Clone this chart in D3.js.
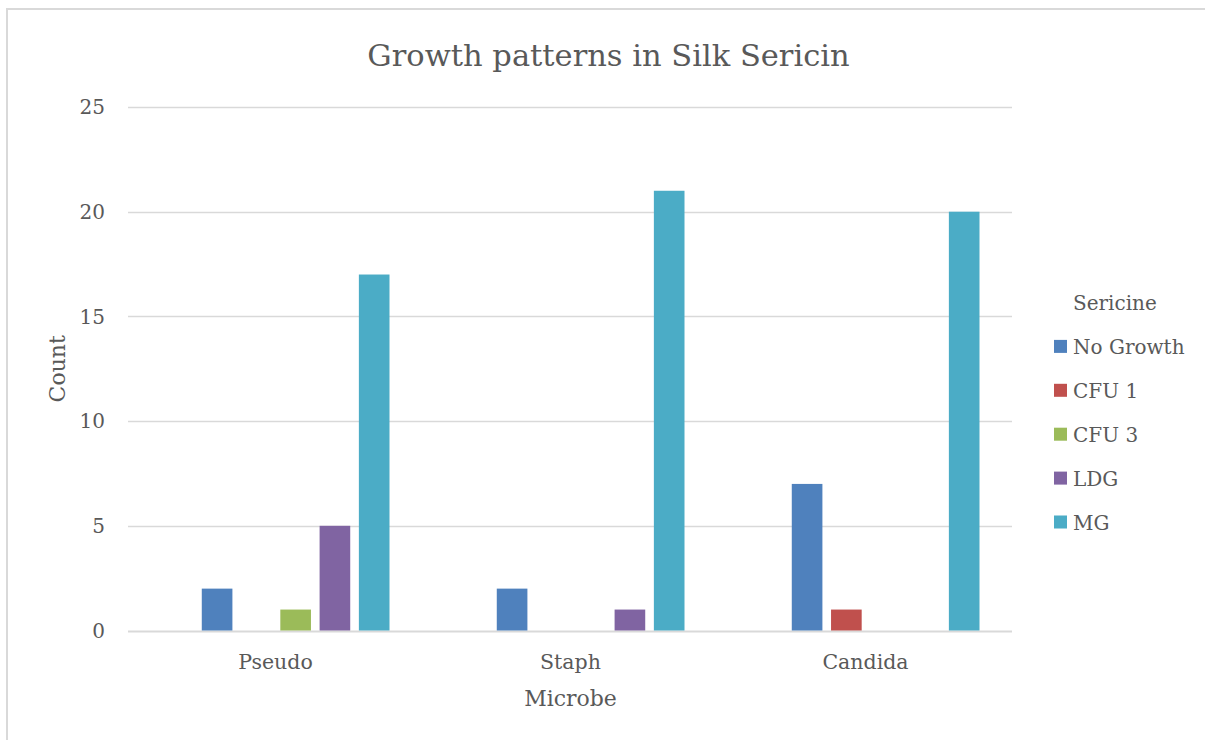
<!DOCTYPE html>
<html>
<head>
<meta charset="utf-8">
<script src="https://cdn.jsdelivr.net/npm/d3@7"></script>
<style>
  body { margin: 0; background: #fff; }
  text { font-family: "DejaVu Serif", serif; fill: #595959; }
</style>
</head>
<body>
<div id="chart"></div>
<script>
// Chart data
var categories = ['Pseudo', 'Staph', 'Candida'];
var seriesNames = ['Sericine', 'No Growth', 'CFU 1', 'CFU 3', 'LDG', 'MG'];
var sericine = [null, null, null];   // empty series, only shows as the legend heading
var noGrowth = [2, 2, 7];
var cfu1 = [0, 0, 1];
var cfu3 = [1, 0, 0];
var ldg = [5, 1, 0];
var mg = [17, 21, 20];
var yTicks = [0, 5, 10, 15, 20, 25];
var colors = [null, '#4F81BD', '#C0504D', '#9BBB59', '#8064A2', '#4BACC6'];

(function () {
    var W = 1205, H = 740;
    var plot = { left: 128, right: 1013, top: 107, bottom: 630.5 };
    var values = [sericine, noGrowth, cfu1, cfu3, ldg, mg];

    var svg = d3.select('#chart').append('svg')
        .attr('width', W)
        .attr('height', H);

    // chart border
    svg.append('rect')
        .attr('x', 7).attr('y', 9)
        .attr('width', W + 20).attr('height', H + 20)
        .attr('fill', 'none')
        .attr('stroke', '#d9d9d9')
        .attr('stroke-width', 2);

    var x0 = d3.scaleBand().domain(categories).range([plot.left, plot.right]);
    var x1 = d3.scaleBand().domain(seriesNames)
        .range([34.5, x0.bandwidth() - 33.5])
        .paddingInner(0.22);
    var y = d3.scaleLinear().domain([0, 25]).range([plot.bottom, plot.top]);

    // gridlines
    svg.append('g').selectAll('line')
        .data(yTicks)
        .enter().append('line')
        .attr('x1', plot.left).attr('x2', plot.right - 1)
        .attr('y1', function (d) { return Math.round(y(d)) + 0.5; })
        .attr('y2', function (d) { return Math.round(y(d)) + 0.5; })
        .attr('stroke', '#d9d9d9')
        .attr('stroke-width', function (d) { return d === 0 ? 2 : 1.5; });

    // y tick labels
    svg.append('g').selectAll('text')
        .data(yTicks)
        .enter().append('text')
        .attr('x', 105)
        .attr('y', function (d) { return y(d); })
        .attr('dy', '0.36em')
        .attr('text-anchor', 'end')
        .style('font-size', '20px')
        .text(function (d) { return d; });

    // bars
    var rows = [];
    categories.forEach(function (c, i) {
        seriesNames.forEach(function (s, j) {
            if (values[j][i] != null) rows.push({ cat: c, name: s, v: values[j][i], color: colors[j] });
        });
    });
    svg.append('g').selectAll('rect')
        .data(rows)
        .enter().append('rect')
        .attr('x', function (d) { return x0(d.cat) + x1(d.name); })
        .attr('y', function (d) { return y(d.v); })
        .attr('width', x1.bandwidth())
        .attr('height', function (d) { return y(0) - y(d.v); })
        .attr('fill', function (d) { return d.color; });

    // category labels
    svg.append('g').selectAll('text')
        .data(categories)
        .enter().append('text')
        .attr('x', function (d) { return x0(d) + x0.bandwidth() / 2; })
        .attr('y', 669)
        .attr('text-anchor', 'middle')
        .style('font-size', '20.5px')
        .text(function (d) { return d; });

    // title and axis titles
    svg.append('text')
        .attr('x', (plot.left + plot.right) / 2 + 38)
        .attr('y', 66)
        .attr('text-anchor', 'middle')
        .style('font-size', '30.5px')
        .text('Growth patterns in Silk Sericin');

    svg.append('text')
        .attr('x', (plot.left + plot.right) / 2)
        .attr('y', 706)
        .attr('text-anchor', 'middle')
        .style('font-size', '22px')
        .text('Microbe');

    svg.append('text')
        .attr('transform', 'translate(65,' + ((plot.top + plot.bottom) / 2) + ') rotate(-90)')
        .attr('text-anchor', 'middle')
        .style('font-size', '22px')
        .text('Count');

    // legend
    var legend = svg.append('g').selectAll('g')
        .data(seriesNames)
        .enter().append('g')
        .attr('transform', function (d, i) { return 'translate(1054,' + (310 + i * 43.9) + ')'; });

    legend.filter(function (d, i) { return colors[i] != null; })
        .append('rect')
        .attr('x', 0).attr('y', -14)
        .attr('width', 13).attr('height', 13)
        .attr('fill', function (d) { return colors[seriesNames.indexOf(d)]; });

    legend.append('text')
        .attr('x', 19)
        .attr('y', 0)
        .style('font-size', '20px')
        .text(function (d) { return d; });
})();
</script>
</body>
</html>
